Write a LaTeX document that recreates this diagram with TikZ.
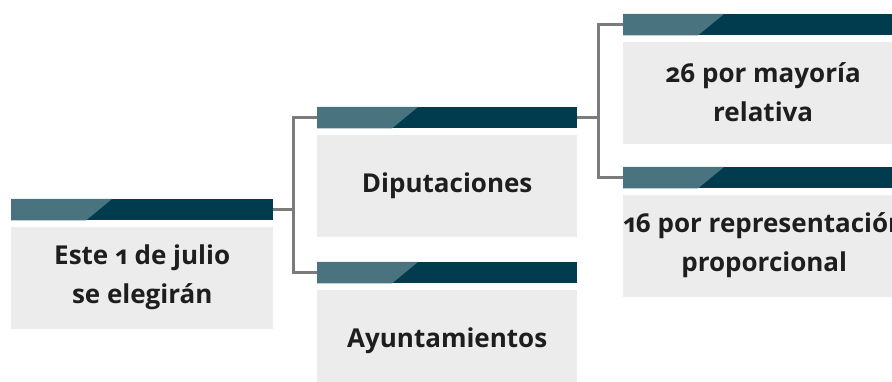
\documentclass[tikz,border=0pt]{standalone}
\usepackage{fontspec}
\setmainfont{Open Sans}[Numbers=OldStyle]
\usepackage{tikz}
\usetikzlibrary{calc}
\usetikzlibrary{positioning}
\definecolor{barDark}{HTML}{003C4E}
\definecolor{barLight}{HTML}{4A7380}
\definecolor{boxGray}{HTML}{ECECEC}
\definecolor{lineGray}{HTML}{7B7B7B}
\definecolor{txtDark}{HTML}{1E1E1E}
\tikzset{
  header/.style={shape=rectangle,fill=barDark,draw=none,inner sep=0pt,minimum height=21pt,anchor=north west},
  graybox/.style={shape=rectangle,fill=boxGray,draw=none,inner sep=0pt,minimum height=102pt,anchor=north west,
    text=txtDark,align=center,font=\bfseries\fontsize{26}{39}\selectfont},
  conn/.style={draw=lineGray,line width=3pt}
}
% #1 name, #2 x, #3 y, #4 width, #5 text
\newcommand{\card}[5]{
  \node[header,minimum width=#4 pt] (#1-h) at (#2,#3) {};
  \fill[barLight] (#1-h.north west) -- ++(101,0) -- ($(#1-h.south west)+(75,0)$) -- (#1-h.south west) -- cycle;
  \node[graybox,minimum width=#4 pt] (#1) at ($(#1-h.south west)+(0,6)$) {#5};
}

\begin{document}
\begin{tikzpicture}[x=1pt,y=-1pt]
        \useasboundingbox (0,0) rectangle (892,382);
        \clip (0,0) rectangle (892,382);

        % col1
        \card{este}{11}{199}{262}{Este 1 de julio\\se elegirán}

        % col2
        \card{dip}{317}{107}{260}{Diputaciones}
        \card{ayu}{317}{262}{260}{Ayuntamientos}

        % col3
        \card{may}{623}{14}{280}{26 por mayoría\\relativa}
        \card{rep}{623}{167}{282}{16 por representación\\proporcional}

        \draw[conn] (este-h.east) -- ++(20,0) |- (dip-h.west);
        \draw[conn] (este-h.east) -- ++(20,0) |- (ayu-h.west);
        \draw[conn] (dip-h.east) -- ++(21,0) |- (may-h.west);
        \draw[conn] (dip-h.east) -- ++(21,0) |- (rep-h.west);

    \end{tikzpicture}
\end{document}
